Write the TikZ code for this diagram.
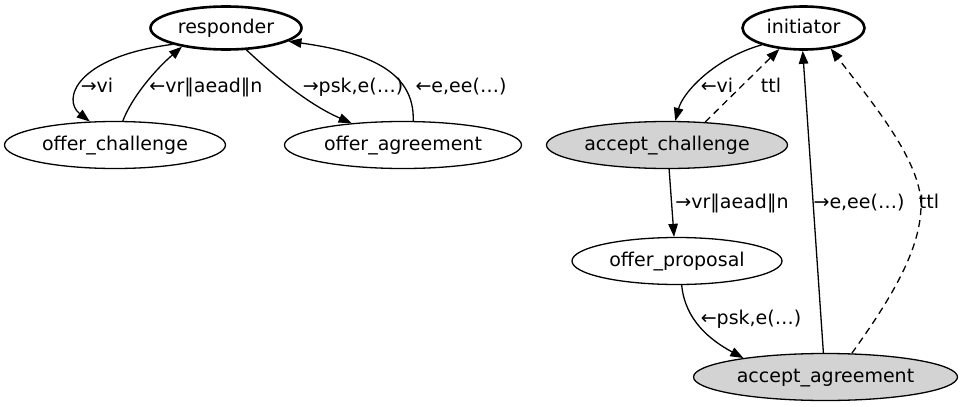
\documentclass[tikz,border=0pt]{standalone}
\usepackage{fontspec}
\setmainfont{DejaVu Sans}
\usetikzlibrary{arrows.meta,shapes.geometric}
\definecolor{gvgray}{HTML}{D3D3D3}
\begin{document}
\begin{tikzpicture}[x=1pt,y=-1pt,
  every node/.style={font=\fontsize{19}{22}\selectfont},
  state/.style={ellipse, draw, line width=1.3pt, inner sep=0pt, text height=14.4pt, text depth=4pt},
  boldstate/.style={state, line width=2.6pt},
  grayfill/.style={fill=gvgray},
  lbl/.style={inner sep=0pt, anchor=base},
  edge/.style={draw, line width=1.3pt, -{Triangle[length=13pt,width=9.5pt]}},
  dedge/.style={edge, dash pattern=on 7pt off 5pt}
]
\useasboundingbox (0,0) rectangle (962,407);

% nodes
\node[boldstate, minimum width=151pt, minimum height=43pt] (responder) at (226,28) {responder};
\node[state, minimum width=221pt, minimum height=47pt] (offer_challenge) at (115,145) {offer\_challenge};
\node[state, minimum width=237pt, minimum height=47pt] (offer_agreement) at (403,145) {offer\_agreement};
\node[boldstate, minimum width=122pt, minimum height=43pt] (initiator) at (803.5,28) {initiator};
\node[state, grayfill, minimum width=241pt, minimum height=47pt] (accept_challenge) at (667,145) {accept\_challenge};
\node[state, minimum width=210pt, minimum height=47pt] (offer_proposal) at (677,261) {offer\_proposal};
\node[state, grayfill, minimum width=264pt, minimum height=47pt] (accept_agreement) at (825.5,377) {accept\_agreement};

% left graph edges
\draw[edge] (responder.197) .. controls (75,57) and (62,100) .. (offer_challenge.137);
\draw[edge] (offer_challenge.72) .. controls (132,97) and (155,70) .. (responder.203);
\draw[edge] (responder.313) .. controls (268,70) and (305,103) .. (offer_agreement.157);
\draw[edge] (offer_agreement.67) .. controls (415,70) and (365,52) .. (responder.348);

% right graph edges
\draw[edge] (initiator.202) .. controls (715,58) and (683,92) .. (accept_challenge.71);
\draw[dedge] (accept_challenge.31) -- (initiator.221);
\draw[edge] (accept_agreement.95) -- (initiator.268);
\draw[dedge] (accept_agreement.42) .. controls (890,300) and (921,250) .. (921,205)
  .. controls (921,160) and (870,100) .. (initiator.323);
\draw[edge] (accept_challenge.275) -- (offer_proposal.97);
\draw[edge] (offer_proposal.281) .. controls (685,320) and (710,340) .. (accept_agreement.167);

% labels
\node[lbl] (l1) at (97,92.5) {→vi};
\node[lbl] (l2) at (206,92.5) {←vr‖aead‖n};
\node[lbl] (l3) at (353,92.5) {→psk,e(…)};
\node[lbl] (l4) at (461,92.5) {←e,ee(…)};
\node[lbl] (l5) at (717,92.5) {←vi};
\node[lbl] (l6) at (771,92.5) {ttl};
\node[lbl] (l7) at (732,208.5) {→vr‖aead‖n};
\node[lbl] (l8) at (859,208.5) {→e,ee(…)};
\node[lbl] (l9) at (929,208.5) {ttl};
\node[lbl] (l10) at (751,324) {←psk,e(…)};
\end{tikzpicture}
\end{document}
